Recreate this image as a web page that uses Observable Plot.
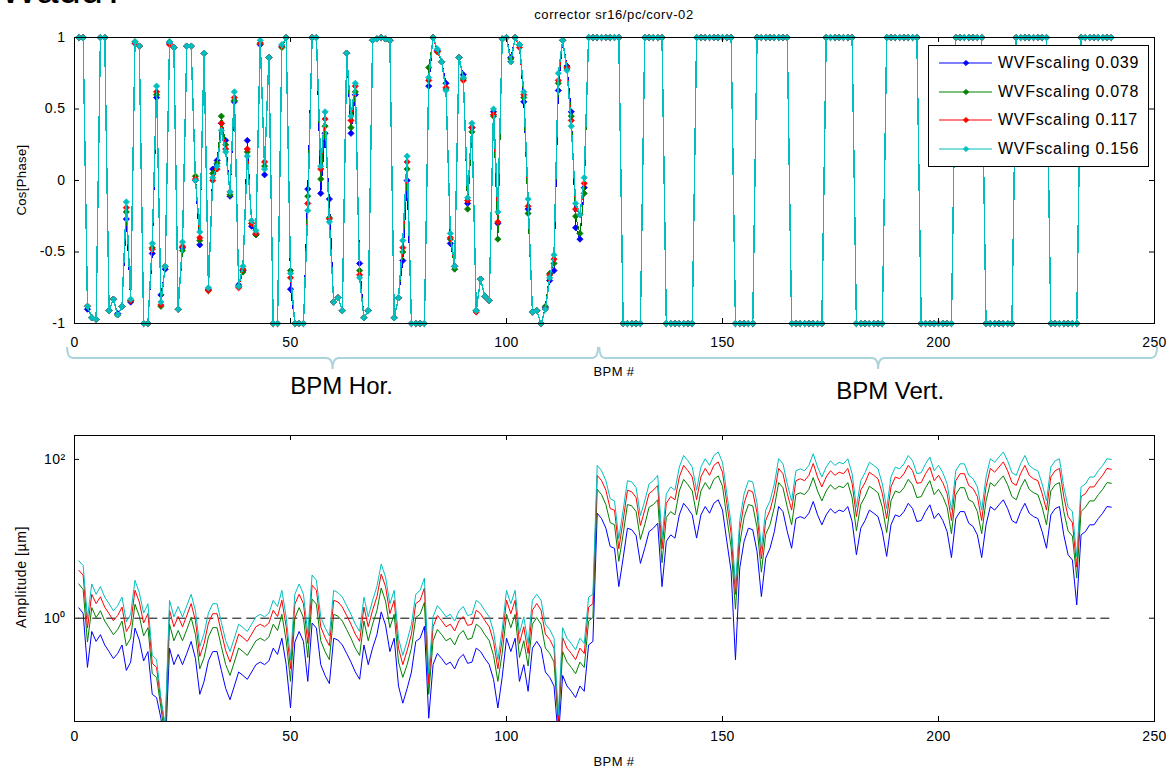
<!DOCTYPE html>
<html><head><meta charset="utf-8">
<script src="https://cdn.jsdelivr.net/npm/d3@7"></script>
<script src="https://cdn.jsdelivr.net/npm/@observablehq/plot@0.6"></script>
<style>
body{margin:0;background:#fff;font-family:"Liberation Sans",Arial,sans-serif;}
#wrap{position:relative;width:1169px;height:772px;overflow:hidden;background:#fff;}
.abs{position:absolute;white-space:nowrap;color:#000;}
</style></head><body><div id="wrap"></div>
<script>
// ---------- data ----------
const bpm = d3.range(1, 241);
const seriesNames = ["WVFscaling 0.039","WVFscaling 0.078","WVFscaling 0.117","WVFscaling 0.156"];
const seriesColors = ["#0000ff","#008000","#ff0000","#00bfbf"];
const xTicks = [0,50,100,150,200,250];
const cosTicks = [-1,-0.5,0,0.5,1];
const ampTicks = [1,100];
const ampTickLabels = ["10\u2070","10\u00b2"];
const titleText = "corrector sr16/pc/corv-02";
const braces = [{label:"BPM Hor.", from:-1.6, to:121.3}, {label:"BPM Vert.", from:121.6, to:250.7}];
const refLine = [{y:1, x1:1, x2:240}];

// cos(phase), horizontal BPMs 1-120, per series
const cosBlueH = [1,1,-0.9,-0.96,-0.97,1,1,-0.91,-0.83,-0.93,
-0.88,-0.27,-0.85,0.96,0.94,-1,-1,-0.51,0.58,-0.8,
-0.62,0.96,0.93,-0.9,-0.47,0.94,0.94,0,-0.45,0.89,
-0.76,0.08,0.14,0.4,0.28,-0.11,0.55,-0.73,-0.63,0.28,
-0.32,-0.38,0.95,0.04,0.86,-1,-1,0.94,1,-0.76,
-1,-1,-1,-0.06,1,1,-0.09,0.33,-0.13,-0.85,
-0.82,-0.91,0.89,0.33,0.6,-0.58,-0.96,-0.91,0.98,0.99,
1,0.99,0.98,-0.96,-0.82,-0.56,0,-1,-1,-1,
-1,0.66,1,0.91,0.83,0.68,-0.44,-0.6,0.86,0.74,
-0.16,0.37,-0.91,-0.69,-0.81,-0.84,0.48,-0.3,0.99,1,
0.86,1,0.95,0.55,-0.2,-0.92,-0.91,-1,-0.89,-0.7,
-0.63,0.63,0.98,0.8,0.48,-0.33,-0.41,-0.05,1,1];
const cosGreenH = [1,1,-0.88,-0.96,-0.97,1,1,-0.91,-0.83,-0.94,
-0.88,-0.22,-0.84,0.97,0.94,-1,-1,-0.47,0.6,-0.88,
-0.6,0.97,0.93,-0.9,-0.49,0.94,0.94,0.03,-0.42,0.89,
-0.77,0.05,0.12,0.45,0.25,-0.1,0.56,-0.74,-0.64,0.2,
-0.3,-0.38,0.96,0.1,0.86,-1,-1,0.93,1,-0.63,
-1,-1,-1,-0.11,1,1,0.01,0.38,-0.26,-0.85,
-0.82,-0.91,0.89,0.37,0.62,-0.63,-0.96,-0.91,0.98,0.99,
1,0.99,0.98,-0.96,-0.82,-0.5,0.08,-1,-1,-1,
-1,0.79,1,0.9,0.83,0.64,-0.41,-0.62,0.86,0.71,
-0.2,0.34,-0.91,-0.69,-0.81,-0.84,0.45,-0.41,0.99,1,
0.85,1,0.95,0.58,-0.23,-0.92,-0.91,-1,-0.88,-0.65,
-0.58,0.68,0.98,0.78,0.45,-0.25,-0.37,-0.09,1,1];
const cosRedH = [1,1,-0.88,-0.96,-0.97,1,1,-0.91,-0.83,-0.94,
-0.88,-0.19,-0.84,0.96,0.94,-1,-1,-0.48,0.62,-0.87,
-0.6,0.95,0.93,-0.9,-0.46,0.94,0.94,0.01,-0.4,0.89,
-0.77,0,0.08,0.4,0.22,-0.08,0.58,-0.75,-0.62,0.22,
-0.3,-0.37,0.96,0.13,0.86,-1,-1,0.94,1,-0.68,
-1,-1,-1,-0.16,1,1,0.08,0.43,-0.27,-0.85,
-0.82,-0.91,0.89,0.42,0.66,-0.66,-0.96,-0.91,0.98,0.99,
1,0.99,0.98,-0.96,-0.82,-0.47,0.13,-1,-1,-1,
-1,0.7,1,0.9,0.83,0.65,-0.4,-0.6,0.86,0.7,
-0.14,0.37,-0.92,-0.69,-0.81,-0.84,0.46,-0.29,0.99,1,
0.83,1,0.93,0.6,-0.18,-0.92,-0.91,-1,-0.9,-0.66,
-0.55,0.7,0.98,0.79,0.42,-0.2,-0.24,-0.02,1,1];
const cosCyanH = [1,1,-0.88,-0.96,-0.97,1,1,-0.91,-0.83,-0.94,
-0.88,-0.15,-0.83,0.97,0.94,-1,-1,-0.44,0.66,-0.85,
-0.6,0.97,0.93,-0.9,-0.43,0.94,0.94,0,-0.36,0.89,
-0.75,0.02,0.1,0.35,0.2,-0.08,0.62,-0.74,-0.6,0.17,
-0.28,-0.35,0.98,0.08,0.86,-1,-1,0.95,1,-0.65,
-1,-1,-1,-0.21,1,1,0.1,0.48,-0.29,-0.85,
-0.82,-0.91,0.89,0.45,0.68,-0.68,-0.96,-0.91,0.98,0.99,
1,0.99,0.98,-0.96,-0.82,-0.42,0.17,-1,-1,-1,
-1,0.72,1,0.92,0.83,0.63,-0.37,-0.6,0.86,0.72,
-0.12,0.4,-0.91,-0.69,-0.81,-0.84,0.5,-0.22,0.99,1,
0.83,1,0.95,0.62,-0.13,-0.92,-0.91,-1,-0.9,-0.68,
-0.52,0.75,0.98,0.77,0.38,-0.16,-0.24,0.02,1,1];
// cos(phase), vertical BPMs 121-240 (same for all series)
const cosV = [1,1,1,1,1,1,-1,-1,-1,-1,
-1,1,1,1,1,1,-1,-1,-1,-1,
-1,-1,-1,1,1,1,1,1,1,1,
1,1,-1,-1,-1,-1,-1,1,1,1,
1,1,1,1,1,-1,-1,-1,-1,-1,
-1,-1,-1,1,1,1,1,1,1,1,
-1,-1,-1,-1,-1,-1,-1,1,1,1,
1,1,1,1,1,-1,-1,-1,-1,-1,
-1,-1,-1,1,1,1,1,1,1,1,
-1,-1,-1,-1,-1,-1,-1,1,1,1,
1,1,1,1,1,-1,-1,-1,-1,-1,
-1,-1,1,1,1,1,1,1,1,1];

// amplitude [um], BPMs 1-240, per series
const ampBlue = [1.35,1.15,0.24,0.68,0.51,0.62,0.46,0.38,0.31,0.36,
0.46,0.22,0.28,0.75,0.53,0.29,0.38,0.11,0.1,0.055,
0.02,0.42,0.26,0.35,0.26,0.36,0.51,0.31,0.11,0.16,
0.29,0.38,0.38,0.22,0.13,0.094,0.14,0.21,0.19,0.17,
0.21,0.26,0.28,0.26,0.29,0.42,0.35,0.56,0.26,0.074,
0.5,0.68,0.51,0.16,0.87,0.75,0.26,0.19,0.15,0.56,
0.53,0.46,0.36,0.28,0.21,0.17,0.46,0.26,0.42,0.62,
1.2,0.82,0.38,0.56,0.14,0.085,0.13,0.21,0.51,0.56,
0.79,0.055,0.26,0.36,0.31,0.26,0.28,0.23,0.31,0.35,
0.27,0.28,0.42,0.38,0.31,0.26,0.17,0.074,0.18,0.56,
0.38,0.56,0.16,0.26,0.12,0.42,0.51,0.42,0.21,0.18,
0.14,0.03,0.19,0.14,0.12,0.1,0.14,0.12,0.46,0.51,
21,18,13.6,8,7.6,2.5,5.7,13.6,13,11,
4.9,7.6,12.3,13.6,15.7,2.5,9.3,11.2,10.2,20,
28,24,20,10.2,20,25.5,21,28,31,23,
9.3,3.9,0.3,4.3,9.3,13.6,13,6.9,1.87,5.7,
7.6,12.3,25.5,22,12.3,7.6,18,19,18,21,
29.5,20,15,20,24,21,23,22,25.5,16.5,
6.3,13.6,17,23,21,19,12.3,6,15,20,
19,22,28,24,16.5,17,22,26.8,18,21,
17,12.3,5.8,18,22,22,15.7,14.3,11.2,5.8,
15,25.5,23,26.8,31,24,17,15.7,22,28,
21,19,18,12.3,7.6,20,24,25.5,11.2,6.3,
5.4,1.47,11.2,12.3,15,15,18,21,25.5,25];
const ampGreen = [2.7,2.3,0.5,1.36,1.02,1.24,0.92,0.76,0.62,0.72,
0.92,0.45,0.56,1.5,1.06,0.6,0.76,0.2,0.18,0.075,
0.03,0.84,0.52,0.7,0.52,0.72,1.02,0.62,0.23,0.32,
0.58,0.76,0.76,0.44,0.26,0.19,0.28,0.42,0.38,0.34,
0.42,0.52,0.56,0.52,0.58,0.84,0.7,1.12,0.52,0.16,
1.0,1.36,1.02,0.32,1.74,1.5,0.52,0.38,0.3,1.12,
1.06,0.92,0.72,0.56,0.42,0.34,0.92,0.52,0.84,1.24,
2.4,1.64,0.76,1.12,0.28,0.18,0.26,0.42,1.02,1.12,
1.58,0.11,0.52,0.72,0.62,0.52,0.56,0.46,0.62,0.7,
0.54,0.56,0.84,0.76,0.62,0.52,0.34,0.16,0.36,1.12,
0.76,1.12,0.32,0.52,0.25,0.84,1.02,0.84,0.42,0.36,
0.28,0.045,0.38,0.28,0.24,0.2,0.28,0.24,0.92,1.02,
42,36,27,16,15,5.2,11.4,27,26,22,
9.8,15,25,27,31,5,18.6,22,20,40,
56,48,40,20,40,51,42,56,62,46,
18.6,7.8,1.3,8.6,18.6,27,26,13.8,3.8,11.4,
15,25,51,44,25,15,36,38,36,42,
59,40,30,40,48,42,46,44,51,33,
12.6,27,34,46,42,38,25,12,30,40,
38,44,56,48,33,34,44,54,36,42,
34,25,11.6,36,44,44,31,29,22,11.6,
30,51,46,54,62,48,34,31,44,56,
42,38,36,25,15,40,48,51,22,12.6,
10.8,3.2,22,25,30,30,36,42,51,50];
const ampRed = [4.0,3.5,0.75,2.0,1.53,1.86,1.38,1.14,0.93,1.08,
1.38,0.68,0.84,2.25,1.6,0.87,1.14,0.27,0.24,0.09,
0.04,1.26,0.78,1.05,0.78,1.08,1.53,0.93,0.33,0.48,
0.87,1.14,1.14,0.66,0.39,0.28,0.42,0.63,0.57,0.51,
0.63,0.78,0.84,0.78,0.87,1.26,1.05,1.68,0.78,0.23,
1.5,2.0,1.53,0.48,2.6,2.25,0.78,0.57,0.45,1.68,
1.6,1.38,1.08,0.84,0.63,0.51,1.38,0.78,1.26,1.86,
3.6,2.5,1.14,1.68,0.42,0.26,0.39,0.63,1.53,1.68,
2.4,0.15,0.78,1.08,0.93,0.78,0.84,0.69,0.93,1.05,
0.81,0.84,1.26,1.14,0.93,0.78,0.51,0.23,0.54,1.68,
1.14,1.68,0.48,0.78,0.36,1.26,1.53,1.26,0.63,0.54,
0.42,0.05,0.57,0.42,0.36,0.3,0.42,0.36,1.38,1.53,
63,54,41,24,23,7.5,17,41,39,33,
14.7,23,37,41,47,7.5,28,34,31,60,
84,72,60,31,60,77,63,84,93,69,
28,11.7,2.0,12.9,28,41,39,21,5.6,17,
23,37,77,66,37,23,54,57,54,63,
89,60,45,60,72,63,69,66,77,50,
19,41,51,69,63,57,37,18,45,60,
57,66,84,72,50,51,66,80,54,63,
51,37,17,54,66,66,47,43,34,17,
45,77,69,80,93,72,51,47,66,84,
63,57,54,37,23,60,72,77,34,19,
16,4.4,34,37,45,45,54,63,77,75];
const ampCyan = [5.3,4.6,1.0,2.7,2.0,2.5,1.84,1.52,1.24,1.44,
1.84,0.9,1.12,3.0,2.1,1.16,1.52,0.34,0.3,0.1,
0.045,1.68,1.04,1.4,1.04,1.44,2.0,1.24,0.44,0.64,
1.16,1.52,1.52,0.88,0.52,0.38,0.56,0.84,0.76,0.68,
0.84,1.04,1.12,1.04,1.16,1.68,1.4,2.24,1.04,0.3,
2.0,2.7,2.0,0.64,3.5,3.0,1.04,0.76,0.6,2.24,
2.1,1.84,1.44,1.12,0.84,0.68,1.84,1.04,1.68,2.5,
4.8,3.3,1.52,2.24,0.56,0.34,0.52,0.84,2.0,2.24,
3.2,0.2,1.04,1.44,1.24,1.04,1.12,0.92,1.24,1.4,
1.08,1.12,1.68,1.52,1.24,1.04,0.68,0.3,0.72,2.24,
1.52,2.24,0.64,1.04,0.48,1.68,2.0,1.68,0.84,0.72,
0.56,0.06,0.76,0.56,0.48,0.4,0.56,0.48,1.84,2.0,
84,72,54,32,30,10,23,54,52,44,
19.6,30,49,54,63,10,37,45,41,80,
112,96,80,41,80,102,84,112,124,92,
37,15.6,2.6,17,37,54,52,28,7.5,23,
30,49,102,88,49,30,72,76,72,84,
118,80,60,80,96,84,92,88,102,66,
25,54,68,92,84,76,49,24,60,80,
76,88,112,96,66,68,88,107,72,84,
68,49,23,72,88,88,63,57,45,23,
60,102,92,107,124,96,68,63,88,112,
84,76,72,49,30,80,96,102,45,25,
22,5.9,45,49,60,60,72,84,102,100];

// ---------- build tables ----------
const cosAll = [cosBlueH.concat(cosV), cosGreenH.concat(cosV), cosRedH.concat(cosV), cosCyanH.concat(cosV)];
const ampAll = [ampBlue, ampGreen, ampRed, ampCyan];
const series = seriesNames.map((name, i) => ({
  name, color: seriesColors[i],
  data: bpm.map((b, j) => ({bpm: b, cos: cosAll[i][j], amp: ampAll[i][j]}))
}));

const FONT = "'Liberation Sans', Arial, sans-serif";
const W = 1169;
const wrap = document.getElementById("wrap");

// ---------- top panel ----------
const topH = 370, topMT = 37, topMB = 47, ML = 74, MR = 15;
const frameH1 = topH - topMT - topMB, frameW = W - ML - MR, tk = 5;
const topMarks = [];
series.forEach((s, i) => {
  topMarks.push(Plot.line(s.data, {x: "bpm", y: "cos", stroke: s.color, strokeWidth: i === 3 ? 1.4 : 1, shapeRendering: "crispEdges"}));
  topMarks.push(Plot.dot(s.data, {x: "bpm", y: "cos", fill: s.color, stroke: s.color, strokeWidth: 0.8, symbol: "diamond2", r: 2.8}));
});
const topPlot = Plot.plot({
  width: W, height: topH, marginTop: topMT, marginBottom: topMB, marginLeft: ML, marginRight: MR,
  style: {fontFamily: FONT, fontSize: "14px", background: "transparent", overflow: "visible", letterSpacing: "0.4px"},
  x: {domain: [0, 250]},
  y: {domain: [-1, 1]},
  marks: [
    ...topMarks,
    Plot.frame({stroke: "#000", strokeWidth: 1}),
    Plot.tickX(xTicks, {x: d => d, insetTop: frameH1 - tk, stroke: "#000"}),
    Plot.tickX(xTicks, {x: d => d, insetBottom: frameH1 - tk, stroke: "#000"}),
    Plot.tickY(cosTicks, {y: d => d, insetRight: frameW - tk, stroke: "#000"}),
    Plot.tickY(cosTicks, {y: d => d, insetLeft: frameW - tk, stroke: "#000"}),
    Plot.axisX({ticks: xTicks, tickSize: 0, tickPadding: 14, label: null, tickFormat: d => String(d)}),
    Plot.axisY({ticks: cosTicks, tickSize: 0, tickPadding: 9, label: null, tickFormat: d => String(d)})
  ]
});
topPlot.style.position = "absolute"; topPlot.style.left = "0px"; topPlot.style.top = "0px";
wrap.appendChild(topPlot);

// ---------- bottom panel ----------
const botTop = 420, botH = 352, botMT = 15, botMB = 51;
const frameH2 = botH - botMT - botMB;
const botMarks = series.map(s => Plot.line(s.data, {x: "bpm", y: "amp", stroke: s.color, strokeWidth: 1, clip: true}));
const botPlot = Plot.plot({
  width: W, height: botH, marginTop: botMT, marginBottom: botMB, marginLeft: ML, marginRight: MR,
  style: {fontFamily: FONT, fontSize: "14px", background: "transparent", overflow: "visible", letterSpacing: "0.4px"},
  x: {domain: [0, 250]},
  y: {type: "log", domain: [0.05, 200]},
  marks: [
    Plot.ruleY(refLine, {y: "y", x1: "x1", x2: "x2", stroke: "#000", strokeDasharray: "9,5", strokeWidth: 1}),
    ...botMarks,
    Plot.frame({stroke: "#000", strokeWidth: 1}),
    Plot.tickX(xTicks, {x: d => d, insetTop: frameH2 - tk, stroke: "#000"}),
    Plot.tickX(xTicks, {x: d => d, insetBottom: frameH2 - tk, stroke: "#000"}),
    Plot.tickY(ampTicks, {y: d => d, insetRight: frameW - tk, stroke: "#000"}),
    Plot.tickY(ampTicks, {y: d => d, insetLeft: frameW - tk, stroke: "#000"}),
    Plot.axisX({ticks: xTicks, tickSize: 0, tickPadding: 10, label: null, tickFormat: d => String(d)}),
    Plot.axisY({ticks: ampTicks, tickSize: 0, tickPadding: 9, label: null, tickFormat: d => ampTickLabels[ampTicks.indexOf(d)]})
  ]
});
botPlot.style.position = "absolute"; botPlot.style.left = "0px"; botPlot.style.top = botTop + "px";
wrap.appendChild(botPlot);

// ---------- text labels ----------
function addText(txt, x, y, opts = {}) {
  const d = document.createElement("div");
  d.className = "abs";
  d.textContent = txt;
  d.style.left = x + "px"; d.style.top = y + "px";
  d.style.fontSize = (opts.size || 14) + "px";
  d.style.fontFamily = opts.font || FONT;
  d.style.letterSpacing = (opts.ls || 0) + "px";
  d.style.lineHeight = "1";
  d.style.transform = opts.transform || "translate(-50%,-50%)";
  wrap.appendChild(d);
  return d;
}
addText("Wadu?", 0, -31, {size: 40, transform: "none"});
addText(titleText, 614, 14, {size: 13, ls: 0.6});
addText("Cos[Phase]", 21, 180, {size: 13, ls: 0.4, transform: "translate(-50%,-50%) rotate(-90deg)"});
addText("BPM #", 614, 371, {size: 13, ls: 0.4});
addText("Amplitude [\u00b5m]", 21, 577, {size: 14, ls: 0.6, transform: "translate(-50%,-50%) rotate(-90deg)"});
addText("BPM #", 614, 761, {size: 13, ls: 0.4});

// ---------- braces ----------
const xs = topPlot.scale("x");
const ov = d3.select(wrap).append("svg").attr("width", W).attr("height", 772)
  .style("position", "absolute").style("left", "0px").style("top", "0px").style("pointer-events", "none");
braces.forEach((b, i) => {
  const x0 = xs.apply(b.from), x1 = xs.apply(b.to), xm = (x0 + x1) / 2;
  const yE = 347, yL = 358, yT = 369, r = 6;
  const p = `M${x0},${yE} Q${x0},${yL} ${x0 + r},${yL} L${xm - r},${yL} Q${xm},${yL} ${xm},${yT} Q${xm},${yL} ${xm + r},${yL} L${x1 - r},${yL} Q${x1},${yL} ${x1},${yE}`;
  ov.append("path").attr("d", p).attr("fill", "none").attr("stroke", "#a9d3dd").attr("stroke-width", 2);
  addText(b.label, xm + (i === 0 ? 9 : 12), i === 0 ? 386 : 391, {size: 24});
});

// ---------- legend ----------
const lg = document.createElement("div");
lg.className = "abs";
Object.assign(lg.style, {left: "928px", top: "45px", width: "219px", height: "120px", border: "1px solid #000", background: "#fff"});
wrap.appendChild(lg);
series.forEach((s, i) => {
  const row = document.createElement("div");
  Object.assign(row.style, {position: "absolute", left: "0px", top: (17 + i * 28.7 - 10) + "px", height: "20px", width: "219px"});
  const sv = d3.create("svg").attr("width", 70).attr("height", 20).style("position", "absolute").style("left", "0px").style("top", "0px");
  sv.append("line").attr("x1", 10).attr("x2", 63).attr("y1", 10).attr("y2", 10).attr("stroke", s.color).attr("stroke-width", 1.2);
  sv.append("path").attr("d", "M37,7.4 L39.6,10 L37,12.6 L34.4,10 Z").attr("fill", s.color).attr("stroke", s.color);
  row.appendChild(sv.node());
  const t = document.createElement("div");
  t.textContent = s.name;
  Object.assign(t.style, {position: "absolute", left: "69px", top: "1px", fontSize: "16px", letterSpacing: "0.7px", lineHeight: "18px", fontFamily: FONT});
  row.appendChild(t);
  lg.appendChild(row);
});
</script></body></html>
